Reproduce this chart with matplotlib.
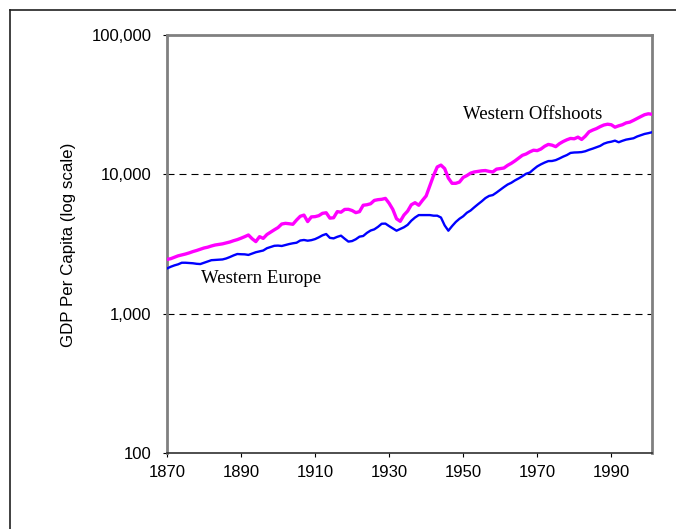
import matplotlib
matplotlib.use("Agg")
import matplotlib.pyplot as plt
from matplotlib.lines import Line2D

# GDP per capita (1990 int. $)
years = list(range(1870, 2002))

offshoots = [
    2450, 2480, 2540, 2600, 2640, 2680, 2730, 2790, 2840, 2900,
    2960, 3000, 3060, 3110, 3140, 3170, 3220, 3270, 3340, 3400,
    3480, 3570, 3670, 3450, 3290, 3570, 3470, 3700, 3850, 4000,
    4150, 4400, 4450, 4420, 4380, 4700, 5000, 5100, 4580, 4950,
    4970, 5050, 5250, 5300, 4850, 4880, 5400, 5350, 5600, 5610,
    5500, 5310, 5400, 6000, 6050, 6150, 6500, 6580, 6620, 6720,
    6200, 5600, 4800, 4600, 5100, 5450, 6050, 6260, 6000, 6500,
    7000, 8300, 9800, 11300, 11650, 11000, 9400, 8620, 8620, 8800,
    9500, 9800, 10200, 10400, 10500, 10600, 10650, 10500, 10400, 10900,
    11000, 11100, 11600, 12000, 12500, 13100, 13700, 14000, 14500, 14900,
    14800, 15200, 15900, 16400, 16200, 15800, 16600, 17200, 17700, 18100,
    18000, 18500, 17800, 18800, 20200, 20800, 21300, 22000, 22600, 22900,
    22700, 21800, 22300, 22700, 23400, 23700, 24400, 25200, 26000, 26800,
    27200, 27000,
]

europe = [
    2110, 2170, 2220, 2260, 2320, 2320, 2310, 2300, 2280, 2270,
    2320, 2370, 2420, 2430, 2440, 2450, 2490, 2550, 2620, 2680,
    2670, 2665, 2640, 2700, 2760, 2800, 2840, 2950, 3010, 3070,
    3080, 3060, 3110, 3160, 3200, 3230, 3350, 3380, 3340, 3370,
    3430, 3530, 3650, 3730, 3500, 3470, 3560, 3630, 3450, 3290,
    3320, 3420, 3570, 3610, 3800, 3950, 4030, 4200, 4420, 4430,
    4250, 4090, 3940, 4050, 4170, 4340, 4650, 4900, 5100, 5100,
    5100, 5100, 5050, 5050, 4900, 4300, 3940, 4250, 4550, 4800,
    5000, 5300, 5500, 5800, 6100, 6400, 6750, 7000, 7100, 7400,
    7750, 8100, 8450, 8700, 9050, 9350, 9700, 10100, 10300, 10860,
    11400, 11800, 12150, 12450, 12470, 12650, 13000, 13400, 13750, 14250,
    14350, 14380, 14450, 14650, 15000, 15300, 15650, 16000, 16600, 16950,
    17150, 17450, 17000, 17400, 17750, 17950, 18150, 18700, 19100, 19500,
    19750, 20050,
]

x_ticks = [1870, 1890, 1910, 1930, 1950, 1970, 1990]
y_ticks = [100, 1000, 10000, 100000]
y_labels = ["100", "1,000", "10,000", "100,000"]

plt.rcParams['font.family'] = ['Liberation Sans', 'DejaVu Sans']

fig = plt.figure(figsize=(6.76, 5.29), dpi=100)
ax = fig.add_axes([0.247, 0.1437, 0.7175, 0.7901])

# outer frame (only top and left edges visible)
fig.add_artist(Line2D([10/676, 10/676], [1 - 10/529, 0], transform=fig.transFigure,
                      color='#202020', lw=1.2))
fig.add_artist(Line2D([10/676, 1], [1 - 10/529, 1 - 10/529], transform=fig.transFigure,
                      color='#202020', lw=1.2))

for yv in [1000, 10000]:
    ax.axhline(yv, color='black', lw=0.8, linestyle=(0, (6.3, 4.5)), zorder=1)

ax.plot(years, europe, color='#0000ff', lw=1.7, zorder=3)
ax.plot(years, offshoots, color='#ff00ff', lw=2.4, zorder=4)

ax.set_yscale('log')
ax.set_xlim(1870, 2001)
ax.set_ylim(100, 100000)
ax.set_xticks(x_ticks)
ax.set_xticklabels([str(t) for t in x_ticks])
ax.set_yticks(y_ticks)
ax.set_yticklabels(y_labels)
ax.minorticks_off()
ax.tick_params(axis='both', direction='out', length=3, width=0.8, color='black',
               labelsize=12)
ax.tick_params(axis='x', pad=6)
ax.tick_params(axis='y', pad=8)

for side in ['top', 'right', 'left']:
    ax.spines[side].set_color('#808080')
    ax.spines[side].set_linewidth(2.0)
ax.spines['bottom'].set_color('#303030')
ax.spines['bottom'].set_linewidth(1.2)

fig.text(68/676, 1 - 245/529, "GDP Per Capita (log scale)", rotation=90,
         ha='center', va='center', fontsize=12.2)

ax.text(1950, 26700, "Western Offshoots", family='Liberation Serif',
        fontsize=13.5, va='center', ha='left')
ax.text(1879.1, 1800, "Western Europe", family='Liberation Serif',
        fontsize=13.5, va='center', ha='left')

fig.savefig("out.png", dpi=100)
